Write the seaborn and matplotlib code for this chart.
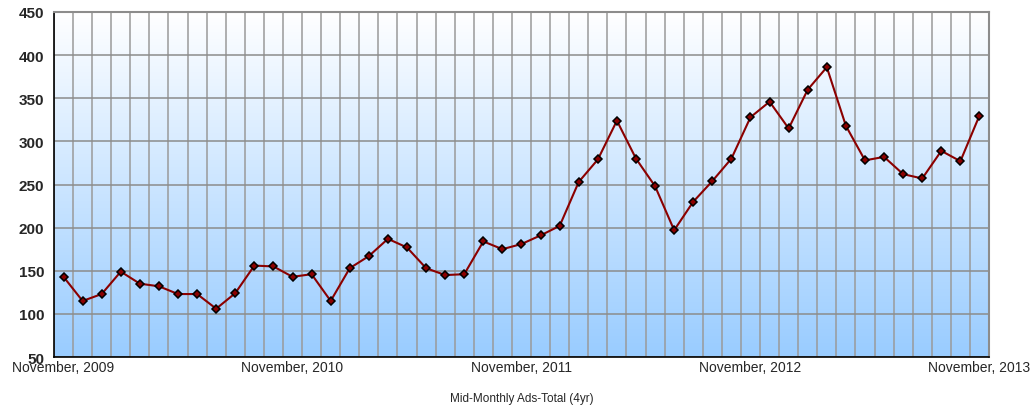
import numpy as np
import pandas as pd
import matplotlib
matplotlib.use("Agg")
import matplotlib.pyplot as plt
from matplotlib.colors import LinearSegmentedColormap
from matplotlib.ticker import MultipleLocator, FixedLocator
import seaborn as sns

# monthly values, November 2009 .. November 2013 (49 months)
ads_total = [143, 115, 123, 149, 135, 132, 123, 123, 106, 124,
             156, 155, 143, 146, 115, 153, 167, 187, 177, 153,
             145, 146, 184, 175, 181, 191, 202, 253, 279, 324,
             280, 248, 197, 230, 254, 280, 328, 346, 315, 360,
             386, 318, 278, 282, 262, 257, 289, 277, 330]
tick_pos = [0, 12, 24, 36, 48]
tick_labels = ["November, 2009", "November, 2010", "November, 2011",
               "November, 2012", "November, 2013"]

df = pd.DataFrame({"month": np.arange(len(ads_total)), "ads": ads_total})

sns.set_style("white")
plt.rcParams["font.family"] = ["Liberation Sans", "DejaVu Sans"]

fig = plt.figure(figsize=(10.34, 4.10), dpi=100)
ax = fig.add_axes([0.0522, 0.1268, 0.9043, 0.8415])

# gradient background (white at top -> light blue at bottom)
cmap = LinearSegmentedColormap.from_list("bg", ["#99CCFF", "#FFFFFF"])
grad = np.linspace(0, 1, 256).reshape(-1, 1)
ax.imshow(grad, cmap=cmap, origin="lower", aspect="auto",
          extent=[0, 1, 0, 1], transform=ax.transAxes, zorder=0)

sns.lineplot(data=df, x="month", y="ads", ax=ax, color="#8B0000",
             linewidth=1.5, marker="D", markersize=4.5,
             markerfacecolor="#8B0000", markeredgecolor="black",
             markeredgewidth=1.1, zorder=3)

ax.set_xlim(-0.5, len(ads_total) - 0.5)
ax.set_ylim(50, 450)
ax.yaxis.set_major_locator(MultipleLocator(50))

# column boundaries as vertical grid
ax.xaxis.set_minor_locator(FixedLocator(np.arange(-0.5, len(ads_total), 1)))
ax.set_xticks(tick_pos)
ax.set_xticklabels(tick_labels, fontsize=10)
ax.grid(which="minor", axis="x", color="#9A9A9A", linewidth=1.1, zorder=1)
ax.grid(which="major", axis="y", color="#8C8C8C", linewidth=1.1, zorder=1)
ax.set_axisbelow(True)

ax.tick_params(axis="x", which="both", length=0, pad=2)
ax.tick_params(axis="y", length=4, width=1, color="black", pad=3, direction="out")
for lab in ax.get_yticklabels():
    lab.set_fontweight("bold")
    lab.set_fontsize(11)

for side in ["left", "bottom"]:
    ax.spines[side].set_color("black")
    ax.spines[side].set_linewidth(1.2)
for side in ["top", "right"]:
    ax.spines[side].set_color("#8C8C8C")
    ax.spines[side].set_linewidth(1.5)
for s in ax.spines.values():
    s.set_zorder(4)

ax.set_ylabel("")
ax.set_xlabel("Mid-Monthly Ads-Total (4yr)", fontsize=8.5, labelpad=13)

fig.savefig("out.png", dpi=100)
